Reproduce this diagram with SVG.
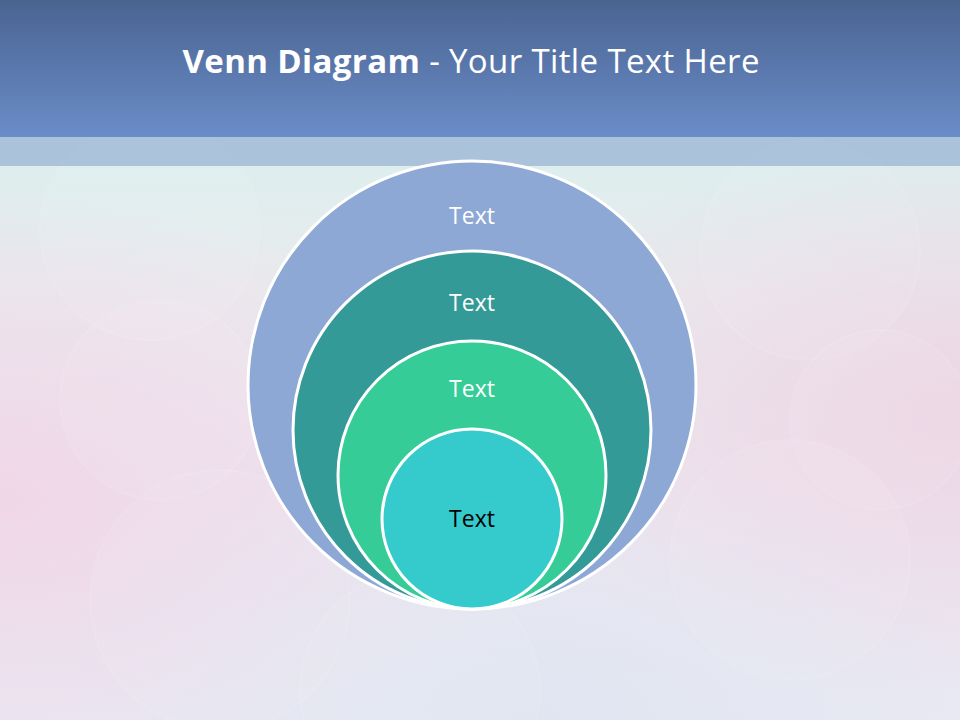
<svg xmlns="http://www.w3.org/2000/svg" width="960" height="720" viewBox="0 0 960 720">
  <defs>
    <linearGradient id="hdr" x1="0" y1="0" x2="0" y2="1">
      <stop offset="0" stop-color="#4a6491"/>
      <stop offset="1" stop-color="#6a8cc8"/>
    </linearGradient>
    <linearGradient id="bg" x1="0" y1="0" x2="0" y2="1">
      <stop offset="0.2" stop-color="#dceeed"/>
      <stop offset="0.42" stop-color="#eaeaee"/>
      <stop offset="0.7" stop-color="#ede6f0"/>
      <stop offset="1" stop-color="#e9e9f3"/>
    </linearGradient>
    <radialGradient id="pinkL" cx="0" cy="0.6" r="0.55">
      <stop offset="0" stop-color="#f0d4e6" stop-opacity="0.85"/>
      <stop offset="1" stop-color="#f0d4e6" stop-opacity="0"/>
    </radialGradient>
    <radialGradient id="pinkR" cx="1" cy="0.45" r="0.5">
      <stop offset="0" stop-color="#ecd2e2" stop-opacity="0.85"/>
      <stop offset="1" stop-color="#ecd2e2" stop-opacity="0"/>
    </radialGradient>
    <radialGradient id="blueB" cx="0.55" cy="1" r="0.5">
      <stop offset="0" stop-color="#dfe5f1" stop-opacity="0.9"/>
      <stop offset="1" stop-color="#dfe5f1" stop-opacity="0"/>
    </radialGradient>
    <style>
      .ring { stroke: #ffffff; stroke-width: 3; }
      .lbl { font-family: "Open Sans", "Liberation Sans", sans-serif; font-size: 23px; text-anchor: middle; fill: #ffffff; }
      .bokeh { fill: #ffffff; fill-opacity: 0.06; stroke: #ffffff; stroke-opacity: 0.1; stroke-width: 2; }
    </style>
  </defs>

  <!-- background -->
  <rect x="0" y="0" width="960" height="720" fill="url(#bg)"/>
  <rect x="0" y="166" width="960" height="554" fill="url(#pinkL)"/>
  <rect x="0" y="166" width="960" height="554" fill="url(#pinkR)"/>
  <rect x="0" y="166" width="960" height="554" fill="url(#blueB)"/>
  <g>
    <circle class="bokeh" cx="150" cy="230" r="110"/>
    <circle class="bokeh" cx="160" cy="400" r="100"/>
    <circle class="bokeh" cx="810" cy="250" r="110"/>
    <circle class="bokeh" cx="880" cy="420" r="90"/>
    <circle class="bokeh" cx="220" cy="600" r="130"/>
    <circle class="bokeh" cx="790" cy="560" r="120"/>
    <circle class="bokeh" cx="420" cy="690" r="120"/>
  </g>
  <rect x="0" y="137" width="960" height="29" fill="#a8c0d9" fill-opacity="0.95"/>
  <rect x="0" y="0" width="960" height="137" fill="url(#hdr)"/>

  <!-- title -->
  <text x="471" y="73" text-anchor="middle" font-family="'Open Sans', 'Liberation Sans', sans-serif" font-size="33" fill="#ffffff" textLength="577" lengthAdjust="spacing"><tspan font-weight="bold">Venn Diagram</tspan><tspan> - Your Title Text Here</tspan></text>

  <!-- nodes -->
  <g id="node-outer">
    <circle class="ring" cx="472" cy="385" r="224" fill="#8ea8d5"/>
    <text class="lbl" x="472" y="224">Text</text>
  </g>
  <g id="node-second">
    <circle class="ring" cx="472" cy="430" r="179" fill="#349a98"/>
    <text class="lbl" x="472" y="311">Text</text>
  </g>
  <g id="node-third">
    <circle class="ring" cx="472" cy="475" r="134" fill="#35cc97"/>
    <text class="lbl" x="472" y="397">Text</text>
  </g>
  <g id="node-inner">
    <circle class="ring" cx="472" cy="519" r="90" fill="#35cbcc"/>
    <text class="lbl" x="472" y="527" style="fill:#000000">Text</text>
  </g>
  <g id="connectors"/>
</svg>
